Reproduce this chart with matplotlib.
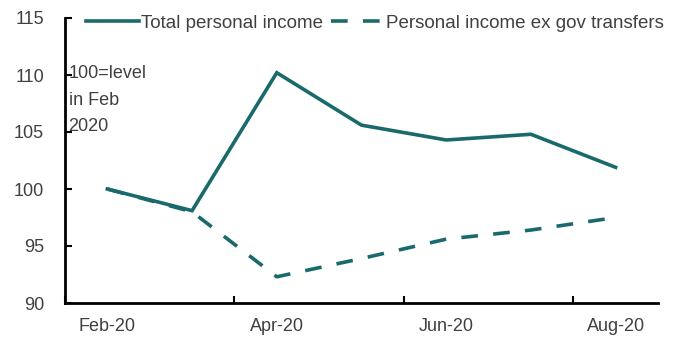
import matplotlib
matplotlib.use("Agg")
import matplotlib.pyplot as plt
import numpy as np

# data (index, 100 = Feb 2020)
months = ["Feb-20", "Mar-20", "Apr-20", "May-20", "Jun-20", "Jul-20", "Aug-20"]
total_income = [100.0, 98.1, 110.2, 105.6, 104.3, 104.8, 101.9]
ex_transfers = [100.0, 98.0, 92.3, 93.9, 95.6, 96.4, 97.5]
shown_labels = ["Feb-20", "", "Apr-20", "", "Jun-20", "", "Aug-20"]
y_ticks = [90, 95, 100, 105, 110, 115]

teal = "#1a6a6b"
grey = "#404040"

plt.rcParams['font.family'] = ['Liberation Sans', 'DejaVu Sans']
plt.rcParams['lines.scale_dashes'] = False

fig = plt.figure(figsize=(6.89, 3.39), dpi=100)
ax = fig.add_axes([65/689, 1 - 303/339, (658 - 65)/689, (303 - 18)/339])

x = np.arange(len(months))
ax.plot(x, total_income, color=teal, lw=2.6, solid_joinstyle='miter',
        label="Total personal income")
ax.plot(x, ex_transfers, color=teal, lw=2.6, dashes=(12, 11),
        label="Personal income ex gov transfers")

ax.set_xlim(-0.5, len(months) - 0.5)
ax.set_ylim(90, 115)
ax.set_yticks(y_ticks)
ax.set_yticklabels([str(v) for v in y_ticks])

# ticks sit between categories, labels at the categories
ax.set_xticks([-0.5, 1.5, 3.5, 5.5])
ax.set_xticklabels([])
ax.set_xticks(x, minor=True)
ax.set_xticklabels(shown_labels, minor=True)
ax.tick_params(axis='x', which='major', direction='in', length=5, width=1.5)
ax.tick_params(axis='x', which='minor', length=0, pad=11, labelsize=13, labelcolor=grey)
ax.tick_params(axis='y', direction='in', length=5, width=1.5, pad=15,
               labelsize=13, labelcolor=grey)

for s in ['top', 'right']:
    ax.spines[s].set_visible(False)
for s in ['left', 'bottom']:
    ax.spines[s].set_linewidth(2)
    ax.spines[s].set_color('black')

ax.text(0.006, 107.8, "100=level\nin Feb\n2020", transform=ax.get_yaxis_transform(),
        ha='left', va='center', fontsize=13, color=grey, linespacing=1.75)

fig.legend(loc='center left', bbox_to_anchor=(86/689, 1 - 23/339), ncol=2,
           frameon=False, fontsize=13.5, handlelength=2.8, handletextpad=0.15,
           columnspacing=0.4, borderpad=0, borderaxespad=0, labelcolor=grey)

fig.savefig("out.png", dpi=100)
